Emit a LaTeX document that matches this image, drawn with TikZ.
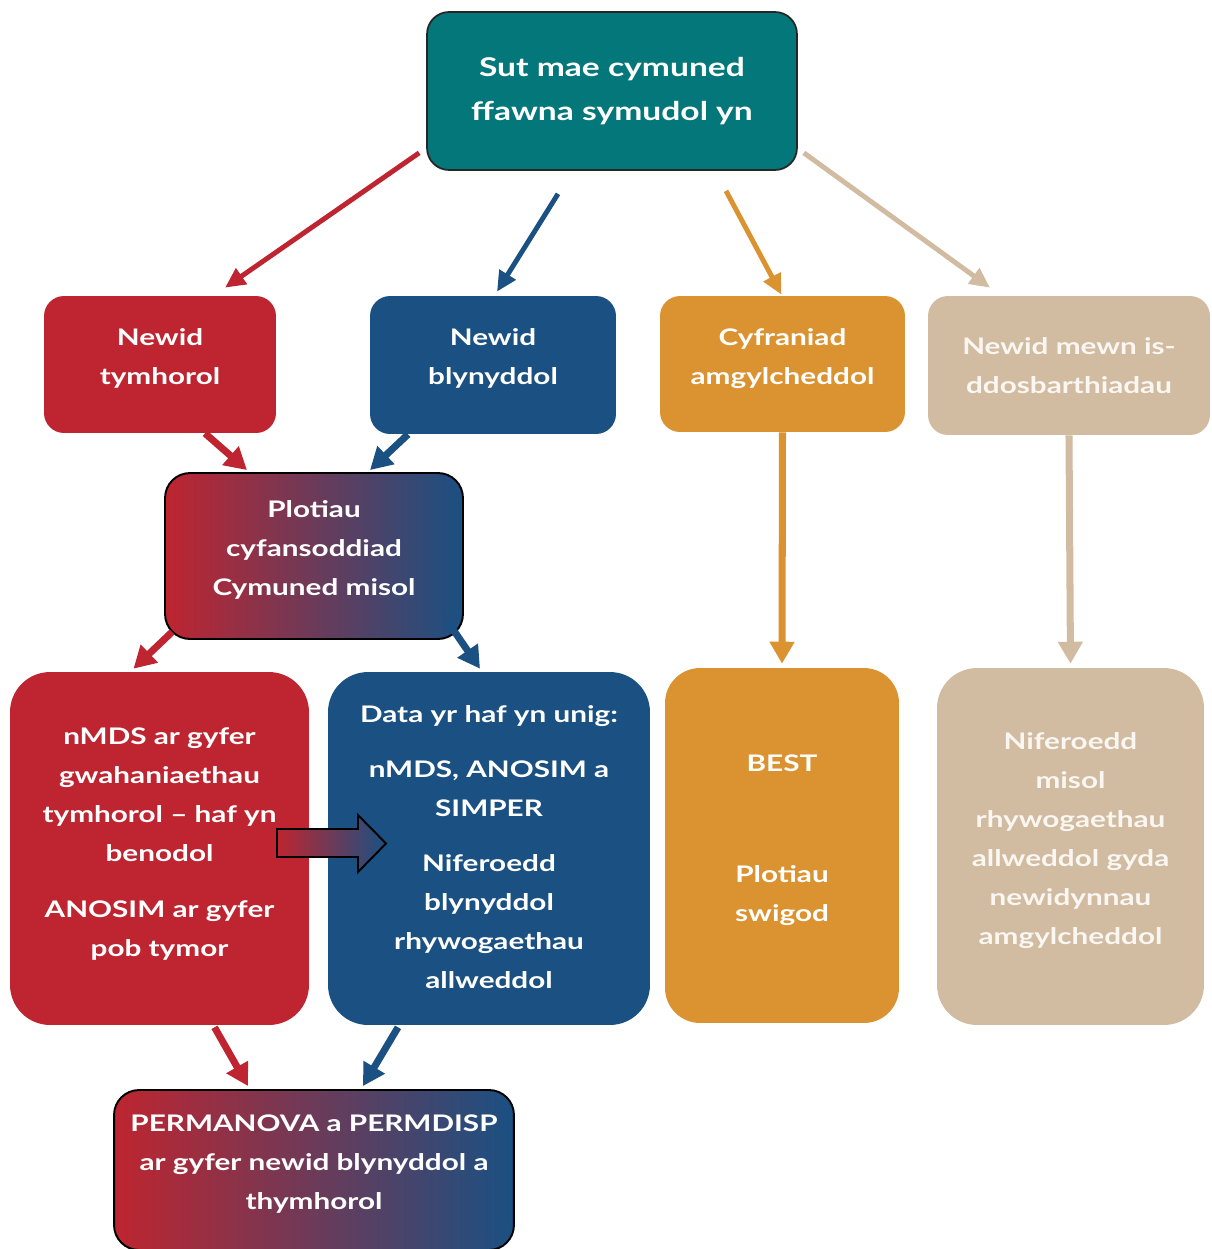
\documentclass[tikz,border=0pt]{standalone}
\usepackage{fontspec}
\setmainfont{Lato}[FakeStretch=1.3]
\usepackage{tikz}
\usetikzlibrary{arrows.meta,calc}
\definecolor{tealTop}{HTML}{03777A}
\definecolor{redSeason}{HTML}{BE2530}
\definecolor{blueYear}{HTML}{1A5082}
\definecolor{orangeEnv}{HTML}{DA9330}
\definecolor{sandSub}{HTML}{D1BBA1}
\definecolor{sandText}{HTML}{FAF6F1}
% fixed depth under the last line of a box
\newcommand{\underpad}[1]{\rule[-#1]{0pt}{#1}}

\begin{document}
\begin{tikzpicture}[
  x=0.02cm, y=-0.02cm,
  font=\bfseries\fontsize{13}{22.2}\selectfont,
  card/.style={rounded corners=#1,align=center,text=white,inner sep=4pt},
  mixcard/.style={card=#1,draw=black,line width=1.1pt,left color=redSeason,right color=blueYear},
  link/.style={-{Triangle[length=11.5pt,width=10.5pt]},line width=2.8pt,draw=#1},
  biglink/.style={-{Triangle[length=12.5pt,width=13.5pt]},line width=4pt,draw=#1}
]
\useasboundingbox[fill=white] (0,0) rectangle (1212,1249);
\node[card=0.44cm,fill=tealTop,draw=black!85,line width=1pt,minimum width=7.4cm,minimum height=3.16cm,
  font=\bfseries\fontsize{14.7}{25.4}\selectfont] (question) at (612,91) {Sut mae cymuned\\ffawna symudol yn};
\node[card=0.4cm,fill=redSeason,minimum width=4.64cm,minimum height=2.74cm] (seasonal) at (160,364.5) {Newid\\tymhorol\underpad{9.5pt}};
\node[card=0.4cm,fill=blueYear,minimum width=4.92cm,minimum height=2.76cm] (annual) at (493,365) {Newid\\blynyddol\underpad{10.1pt}};
\node[card=0.4cm,fill=orangeEnv,minimum width=4.9cm,minimum height=2.72cm] (envir) at (782.5,364) {Cyfraniad\\amgylcheddol\underpad{8.9pt}};
\node[card=0.4cm,fill=sandSub,text=sandText,minimum width=5.64cm,minimum height=2.78cm] (subgroup) at (1069,365.5) {Newid mewn is-\\ddosbarthiadau\underpad{0.4pt}};
\node[mixcard=0.5cm,minimum width=5.96cm,minimum height=3.32cm] (plots) at (314,556) {Plotiau\\cyfansoddiad\\Cymuned misol\underpad{9.5pt}};
\node[card=0.8cm,fill=redSeason,minimum width=5.98cm,minimum height=7.06cm] (nmds) at (159.5,848.5)
  {nMDS ar gyfer\\gwahaniaethau\\tymhorol -- haf yn\\benodol\\[9.7pt]ANOSIM ar gyfer\\pob tymor\underpad{7.8pt}};
\node[card=0.8cm,fill=blueYear,minimum width=6.44cm,minimum height=7.06cm] (summer) at (489,848.5)
  {Data yr haf yn unig:\\[9.1pt]nMDS, ANOSIM a\\SIMPER\\[9.1pt]Niferoedd\\blynyddol\\rhywogaethau\\allweddol\underpad{2.1pt}};
\node[card=0.7cm,fill=orangeEnv,minimum width=4.68cm,minimum height=7.1cm] (best) at (782,845.5) {BEST\\[41pt]Plotiau\\swigod\underpad{8.7pt}};
\node[card=0.8cm,fill=sandSub,text=sandText,minimum width=5.34cm,minimum height=7.14cm] (abund) at (1070.5,846.5)
  {Niferoedd\\misol\\rhywogaethau\\allweddol gyda\\newidynnau\\amgylcheddol\underpad{9.5pt}};
\node[mixcard=0.5cm,minimum width=8cm,minimum height=3.2cm] (perm) at (314,1170) {PERMANOVA a PERMDISP\\ar gyfer newid blynyddol a\\thymhorol\underpad{8.4pt}};
% block arrow between the two lower boxes
\draw[black,line width=1.1pt,left color=redSeason,right color=blueYear]
  (277,829) -- (358,829) -- (358,815) -- (386,843.5) -- (358,872) -- (358,857) -- (277,857) -- cycle;
% arrows from the question
\draw[link=redSeason] ($(question.south west)+(-7,-18)$) -- ($(seasonal.north)+(65,-8)$);
\draw[link=blueYear] ($(question.south)+(-54,23)$) -- ($(annual.north)+(4,-4)$);
\draw[link=orangeEnv] ($(question.south)+(114,20)$) -- ($(envir.north)+(-1,-1)$);
\draw[link=sandSub] ($(question.south east)+(6,-18)$) -- ($(subgroup.north)+(-79,-8)$);
% second level
\draw[biglink=redSeason] ($(seasonal.south)+(45,0)$) -- ($(plots.north)+(-67,-2)$);
\draw[biglink=blueYear] ($(annual.south)+(-85,0)$) -- ($(plots.north)+(56,-2)$);
\draw[biglink=redSeason] ($(plots.south west)+(8,-8)$) -- ($(nmds.north)+(-26,-3)$);
\draw[biglink=blueYear] ($(plots.south east)+(-16,-18)$) -- ($(summer.north)+(-9,-3)$);
\draw[biglink=orangeEnv] (envir.south) -- ($(best.north)+(0,-4)$);
\draw[biglink=sandSub] (subgroup.south) -- ($(abund.north)+(0,-4)$);
\draw[biglink=redSeason] ($(nmds.south)+(55,2)$) -- ($(perm.north)+(-66,-3)$);
\draw[biglink=blueYear] ($(summer.south)+(-91,2)$) -- ($(perm.north)+(49,-3)$);
\end{tikzpicture}
\end{document}
